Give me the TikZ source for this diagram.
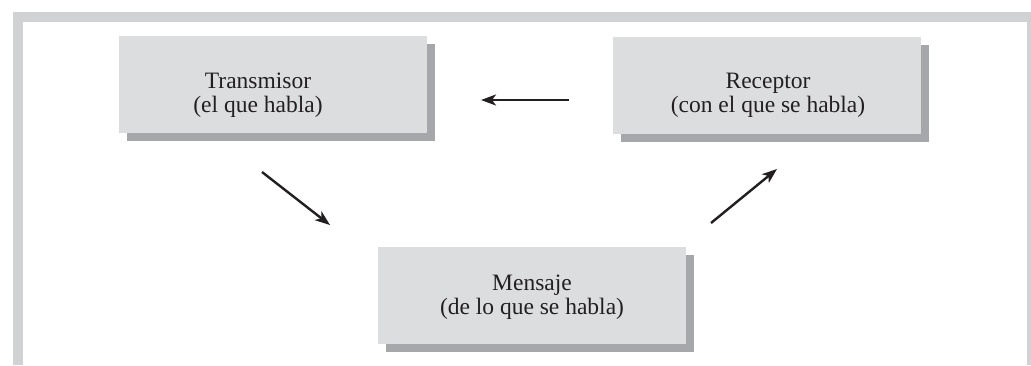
\documentclass[tikz,border=0pt]{standalone}
\usepackage{fontspec}
\setmainfont{Liberation Serif}
\usetikzlibrary{arrows.meta,shadows}
\definecolor{framec}{RGB}{209,210,212}
\definecolor{boxc}{RGB}{220,221,223}
\definecolor{shadowc}{RGB}{166,167,170}
\definecolor{textc}{RGB}{35,31,32}
\tikzset{
  boxnode/.style={rectangle, fill=boxc, inner sep=0pt, minimum width=154pt, minimum height=48.5pt,
    drop shadow={shadow xshift=4pt, shadow yshift=-4pt, fill=shadowc, opacity=1}},
  txt/.style={inner sep=0pt, align=center, text=textc, font=\fontsize{11.75pt}{11.9pt}\selectfont},
  arr/.style={draw=textc, line width=1.2pt, -{Stealth[length=7.5pt,width=5.5pt,inset=2pt]}}
}
\begin{document}
\begin{tikzpicture}[x=0.5pt,y=-0.5pt]
\useasboundingbox (0,0) rectangle (1031,365);
\fill[white] (0,0) rectangle (1031,365);
% frame
\fill[framec] (13,12) rectangle (1031,365);
\fill[white] (23,22) rectangle (1027,365);
% boxes
\node[boxnode] (tr) at (273,84.5) {};
\node[boxnode] (re) at (767,85.5) {};
\node[boxnode] (me) at (532,295.5) {};
% texts
\node[txt] (trt) at (258,95) {Transmisor\\(el que habla)};
\node[txt] (ret) at (768,95.5) {Receptor\\(con el que se habla)};
\node[txt] (met) at (532,297.5) {Mensaje\\(de lo que se habla)};
% arrow end points
\coordinate (a1s) at (569,100);
\coordinate (a1e) at (481,100);
\coordinate (a2s) at (262,172);
\coordinate (a2e) at (330,225);
\coordinate (a3s) at (711,223);
\coordinate (a3e) at (777,169);
\draw[arr] (a1s) -- (a1e);
\draw[arr] (a2s) -- (a2e);
\draw[arr] (a3s) -- (a3e);
\end{tikzpicture}
\end{document}
